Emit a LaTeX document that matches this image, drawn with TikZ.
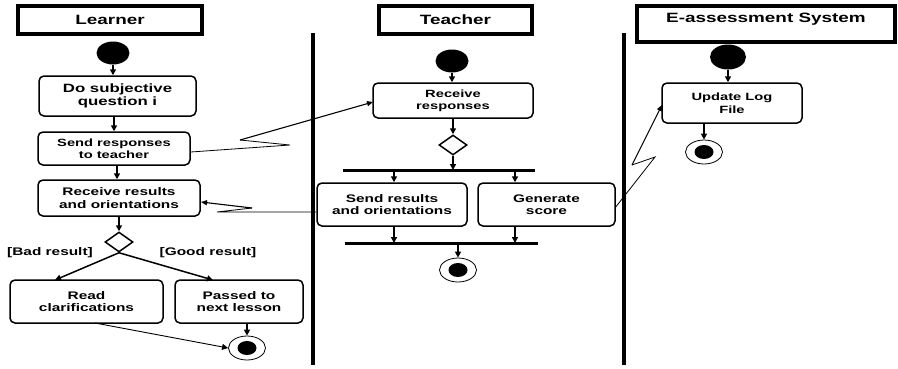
\documentclass[tikz,border=0pt]{standalone}
\usepackage{fontspec}
\setmainfont{Liberation Sans}[FakeStretch=1.4]
\usetikzlibrary{shapes.geometric,arrows.meta}
\begin{document}
\begin{tikzpicture}[x=1pt,y=-1pt,
  act/.style={draw, line width=1.5pt, rounded corners=5pt, align=center, inner sep=0pt, font=\bfseries\fontsize{11}{12.5}\selectfont},
  lanehead/.style={draw, line width=4pt, inner sep=0pt, font=\bfseries\fontsize{13.5}{16}\selectfont},
  startn/.style={ellipse, fill=black, minimum width=33pt, minimum height=23pt, inner sep=0pt},
  endn/.style={ellipse, draw, line width=0.8pt, minimum width=37pt, minimum height=24pt, inner sep=0pt,
     path picture={\fill (path picture bounding box.center) ellipse [x radius=9.5pt, y radius=7pt];}},
  dec/.style={diamond, draw, line width=1.5pt, minimum width=28pt, minimum height=20pt, inner sep=0pt, aspect=1.4},
  guard/.style={font=\bfseries\fontsize{11}{12.5}\selectfont, inner sep=0pt},
  flow/.style={line width=1.5pt, -{Triangle[length=6pt,width=6pt]}},
  obj/.style={line width=0.8pt},
  objarr/.style={line width=1.1pt, -{Triangle[length=6pt,width=5pt]}},
  barline/.style={line width=3pt},
  divider/.style={line width=4pt}]
\useasboundingbox (0,0) rectangle (898,368);

% lane headers
\node[lanehead, minimum width=184pt, minimum height=28pt] (hL) at (110,20) {Learner};
\node[lanehead, minimum width=153pt, minimum height=28pt] (hT) at (455.5,20) {Teacher};
\node[lanehead, minimum width=258pt, minimum height=36pt, text height=15pt, text depth=19pt] (hE) at (766,24) {E-assessment System};

% dividers
\coordinate (v1t) at (313,33); \coordinate (v1b) at (313,365);
\coordinate (v2t) at (624,33); \coordinate (v2b) at (624,365);
\draw[divider] (v1t) -- (v1b);
\draw[divider] (v2t) -- (v2b);

% ---------------- Learner ----------------
\node[startn] (ls) at (113,53) {};
\node[act, minimum width=157pt, minimum height=40pt, font=\bfseries\fontsize{12}{13.5}\selectfont] (a1) at (117.5,96) {Do subjective\\question i};
\node[act, minimum width=152pt, minimum height=33pt, font=\bfseries\fontsize{10.5}{12}\selectfont] (a2) at (114,148.5) {Send responses\\to teacher};
\node[act, minimum width=162pt, minimum height=36pt] (a3) at (119,198) {Receive results\\and orientations};
\node[dec] (d1) at (119,242) {};
\node[act, minimum width=153pt, minimum height=43pt] (a4) at (86.5,301.5) {Read\\clarifications};
\node[act, minimum width=128pt, minimum height=43pt] (a5) at (239,301.5) {Passed to\\next lesson};
\node[endn] (le) at (247,348) {};
\node[guard] (g1) at (50,253) {[Bad result]};
\node[guard] (g2) at (208,253) {[Good result]};

\draw[flow] (ls.south) -- (a1.north -| ls.south);
\draw[flow] (a1.south -| 114,0) -- (a2.north -| 114,0);
\draw[flow] (a2.south -| 117,0) -- (a3.north -| 117,0);
\draw[flow] (a3.south -| d1.north) -- (d1.north);
\coordinate (a4in) at (55,280);
\coordinate (a5in) at (213,280);
\draw[flow] (d1.south) -- (a4in);
\draw[flow] (d1.south) -- (a5in);
\coordinate (a4out) at (95,323);
\draw[flow, line width=0.9pt] (a4out) -- (le.west);
\draw[flow] (a5.south -| le.north) -- (le.north);

% ---------------- Teacher ----------------
\node[startn] (ts) at (452,61) {};
\node[act, minimum width=160pt, minimum height=35pt, font=\bfseries\fontsize{10.5}{12}\selectfont] (b1) at (453,100.5) {Receive\\responses};
\node[dec] (d2) at (453,145) {};
\coordinate (fk1) at (343,170); \coordinate (fk2) at (535,170);
\draw[barline] (fk1) -- (fk2);
\node[act, minimum width=150pt, minimum height=43pt] (b2) at (392,204.5) {Send results\\and orientations};
\node[act, minimum width=137pt, minimum height=43pt] (b3) at (546.5,204.5) {Generate\\score};
\coordinate (jn1) at (345,243); \coordinate (jn2) at (538,243);
\draw[barline] (jn1) -- (jn2);
\node[endn] (te) at (458,270) {};

\draw[flow] (ts.south) -- (b1.north -| ts.south);
\draw[flow] (b1.south -| d2.north) -- (d2.north);
\coordinate (fkm) at (453,170);
\draw[flow] (d2.south) -- (fkm);
\coordinate (fkA) at (394,170); \coordinate (fkB) at (515,170);
\draw[flow] (fkA) -- (fkA |- b2.north);
\draw[flow] (fkB) -- (fkB |- b3.north);
\coordinate (jnA) at (394,243); \coordinate (jnB) at (515,243);
\draw[flow] (jnA |- b2.south) -- (jnA);
\draw[flow] (jnB |- b3.south) -- (jnB);
\coordinate (jnm) at (458,243);
\draw[flow] (jnm) -- (te.north);

% ---------------- E-assessment ----------------
\node[startn, minimum width=36pt, minimum height=25pt] (es) at (728,57) {};
\node[act, minimum width=140pt, minimum height=40pt, font=\bfseries\fontsize{10.5}{12.5}\selectfont] (c1) at (732,103) {Update Log\\File};
\node[endn] (ce) at (704,152) {};
\draw[flow] (es.south) -- (c1.north -| es.south);
\draw[flow] (c1.south -| ce.north) -- (ce.north);

% ---------------- object flows (lightning) ----------------
\coordinate (z1a) at (290,145); \coordinate (z1b) at (240,140); \coordinate (z1e) at (373,102);
\draw[obj] (a2.east |- 0,152) -- (z1a) -- (z1b);
\draw[objarr] (z1b) -- (z1e);

\coordinate (z2a) at (217,212); \coordinate (z2b) at (252,208); \coordinate (z2e) at (201,202);
\draw[obj] (b2.west |- 0,212) -- (z2a) -- (z2b);
\draw[objarr] (z2b) -- (z2e);

\coordinate (z3a) at (655,157); \coordinate (z3b) at (632,165); \coordinate (z3e) at (662,105);
\draw[obj] (b3.east |- 0,207) -- (z3a) -- (z3b);
\draw[objarr] (z3b) -- (z3e);
\end{tikzpicture}
\end{document}
